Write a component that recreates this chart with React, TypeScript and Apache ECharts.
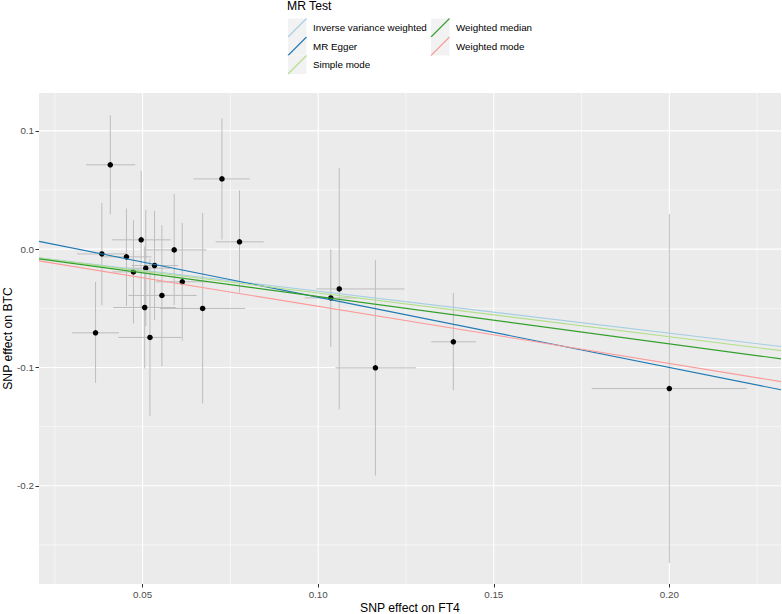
import React, { useEffect, useRef } from "react";
import * as echarts from "echarts";

// SNP effects
const ft4Beta = [0.0408, 0.0726, 0.0776, 0.0496, 0.0384, 0.0454, 0.0590, 0.0534, 0.0509, 0.0474, 0.0613, 0.0555, 0.0506, 0.0671, 0.0366, 0.0521, 0.1036, 0.1060, 0.1163, 0.1385, 0.2000];
const btcBeta = [0.0713, 0.0594, 0.0062, 0.0079, -0.0040, -0.0065, -0.0006, -0.0138, -0.0161, -0.0192, -0.0276, -0.0391, -0.0493, -0.0501, -0.0707, -0.0746, -0.0412, -0.0336, -0.1003, -0.0783, -0.1178];
const ft4Low = [0.0339, 0.0645, 0.0708, 0.0412, 0.0314, 0.0383, 0.0502, 0.0469, 0.0439, 0.0414, 0.0538, 0.0459, 0.0416, 0.0549, 0.0299, 0.0431, 0.0962, 0.0995, 0.1049, 0.1322, 0.1779];
const ft4High = [0.0479, 0.0805, 0.0845, 0.0580, 0.0454, 0.0525, 0.0682, 0.0601, 0.0579, 0.0534, 0.0688, 0.0654, 0.0595, 0.0792, 0.0433, 0.0611, 0.1110, 0.1246, 0.1278, 0.1450, 0.2220];
const btcLow = [0.0294, 0.0082, -0.0366, -0.0504, -0.0473, -0.0480, -0.0473, -0.0600, -0.0650, -0.0628, -0.0774, -0.0989, -0.1009, -0.1304, -0.1130, -0.1409, -0.0826, -0.1355, -0.1913, -0.1192, -0.2652];
const btcHigh = [0.1132, 0.1105, 0.0496, 0.0662, 0.0391, 0.0344, 0.0465, 0.0324, 0.0330, 0.0245, 0.0222, 0.0203, 0.0023, 0.0307, -0.0276, -0.0083, 0.0000, 0.0687, -0.0093, -0.0369, 0.0296];

// MR methods
const methodNames = ["Inverse variance weighted", "MR Egger", "Simple mode", "Weighted median", "Weighted mode"];
const methodSlopes = [-0.355, -0.594, -0.370, -0.400, -0.483];
const methodIntercepts = [0, 0.0188, 0, 0, 0];
const methodColors = ["#a6cee3", "#1f78b4", "#b2df8a", "#33a02c", "#fb9a99"];

// Axes
const xTicks = [0.05, 0.1, 0.15, 0.2];
const yTicks = [-0.2, -0.1, 0, 0.1];
const xMinorGrid = [0.025, 0.075, 0.125, 0.175, 0.225];
const yMinorGrid = [-0.25, -0.15, -0.05, 0.05];
const X_MIN = 0.0205;
const X_MAX = 0.2318;
const Y_MIN = -0.283;
const Y_MAX = 0.132;

const FONT = "Liberation Sans, Arial, Helvetica, sans-serif";

export default function App() {
  const ref = useRef<HTMLDivElement>(null);

  useEffect(() => {
    if (!ref.current) return;
    const chart = echarts.init(ref.current, undefined, { renderer: "svg" });

    const gridLine = (pts: number[][], major: boolean) => ({
      type: "line",
      data: pts,
      symbol: "none",
      silent: true,
      z: 0,
      lineStyle: { color: "#ffffff", width: major ? 1.1 : 0.55 },
      itemStyle: { color: "#ffffff" },
      emphasis: { disabled: true },
      tooltip: { show: false },
    });
    const gridSeries: any[] = [];
    xMinorGrid.forEach((v) => gridSeries.push(gridLine([[v, Y_MIN], [v, Y_MAX]], false)));
    yMinorGrid.forEach((v) => gridSeries.push(gridLine([[X_MIN, v], [X_MAX, v]], false)));
    xTicks.forEach((v) => gridSeries.push(gridLine([[v, Y_MIN], [v, Y_MAX]], true)));
    yTicks.forEach((v) => gridSeries.push(gridLine([[X_MIN, v], [X_MAX, v]], true)));

    const errData = ft4Beta.map((x, i) => [x, btcBeta[i], ft4Low[i], ft4High[i], btcLow[i], btcHigh[i]]);

    const lineSeries = methodNames.map((name, i) => ({
      name,
      type: "line",
      data: [
        [X_MIN, methodIntercepts[i] + methodSlopes[i] * X_MIN],
        [X_MAX, methodIntercepts[i] + methodSlopes[i] * X_MAX],
      ],
      symbol: "none",
      clip: true,
      silent: true,
      z: 4,
      lineStyle: { color: methodColors[i], width: 1.1 },
      itemStyle: { color: methodColors[i] },
    }));

    // legend graphic
    const legendEls: any[] = [];
    legendEls.push({
      type: "text",
      left: 287,
      top: 0,
      style: { text: "MR Test", font: `12.2px ${FONT}`, fill: "#000" },
    });
    const keySize = 18.5;
    const colX = [288, 431];
    const rowY = [18.5, 37, 55.5];
    methodNames.forEach((name, i) => {
      const col = i < 3 ? 0 : 1;
      const row = i < 3 ? i : i - 3;
      const kx = colX[col];
      const ky = rowY[row];
      legendEls.push({
        type: "rect",
        shape: { x: kx, y: ky, width: keySize, height: keySize },
        style: { fill: "#f2f2f2" },
        silent: true,
      });
      legendEls.push({
        type: "line",
        shape: { x1: kx, y1: ky + keySize, x2: kx + keySize, y2: ky },
        style: { stroke: methodColors[i], lineWidth: 1.1 },
        silent: true,
      });
      legendEls.push({
        type: "text",
        x: kx + keySize + 6.5,
        y: ky + keySize / 2,
        style: {
          text: name,
          font: `9.8px ${FONT}`,
          fill: "#000",
          verticalAlign: "middle",
          align: "left",
        },
        silent: true,
      });
    });

    chart.setOption({
      animation: false,
      backgroundColor: "#ffffff",
      textStyle: { fontFamily: FONT },
      grid: {
        left: 39,
        right: 1,
        top: 93,
        bottom: 30,
        show: true,
        backgroundColor: "#ebebeb",
        borderWidth: 0,
        containLabel: false,
        outerBoundsMode: "none",
      },
      xAxis: {
        type: "value",
        min: X_MIN,
        max: X_MAX,
        name: "SNP effect on FT4",
        nameLocation: "middle",
        nameGap: 18,
        nameMoveOverlap: false,
        nameTextStyle: { fontSize: 12.2, color: "#000", fontFamily: FONT },
        axisLine: { show: false, onZero: false },
        splitLine: { show: false },
        axisTick: {
          show: true,
          length: 3.5,
          customValues: xTicks,
          lineStyle: { color: "#333333", width: 1 },
        },
        axisLabel: {
          customValues: xTicks,
          formatter: (v: number) => v.toFixed(2),
          fontSize: 9.8,
          color: "#4d4d4d",
          margin: 5,
          fontFamily: FONT,
        },
      },
      yAxis: {
        type: "value",
        min: Y_MIN,
        max: Y_MAX,
        name: "SNP effect on BTC",
        nameLocation: "middle",
        nameGap: 25,
        nameMoveOverlap: false,
        nameRotate: 90,
        nameTextStyle: { fontSize: 12.2, color: "#000", fontFamily: FONT },
        axisLine: { show: false, onZero: false },
        splitLine: { show: false },
        axisTick: {
          show: true,
          length: 3.5,
          customValues: yTicks,
          lineStyle: { color: "#333333", width: 1 },
        },
        axisLabel: {
          customValues: yTicks,
          formatter: (v: number) => v.toFixed(1),
          fontSize: 9.8,
          color: "#4d4d4d",
          margin: 5,
          fontFamily: FONT,
        },
      },
      graphic: legendEls,
      series: [
        ...gridSeries,
        {
          type: "custom",
          name: "errorbars",
          silent: true,
          z: 1,
          data: errData,
          encode: { x: [0, 2, 3], y: [1, 4, 5] },
          renderItem: (params: any, api: any) => {
            const x = api.value(0);
            const y = api.value(1);
            const xl = api.coord([api.value(2), y]);
            const xh = api.coord([api.value(3), y]);
            const yl = api.coord([x, api.value(4)]);
            const yh = api.coord([x, api.value(5)]);
            return {
              type: "group",
              children: [
                {
                  type: "line",
                  shape: { x1: yl[0], y1: yl[1], x2: yh[0], y2: yh[1] },
                  style: { stroke: "#bdbdbd", lineWidth: 1 },
                },
                {
                  type: "line",
                  shape: { x1: xl[0], y1: xl[1], x2: xh[0], y2: xh[1] },
                  style: { stroke: "#bdbdbd", lineWidth: 1 },
                },
              ],
            };
          },
        },
        {
          type: "scatter",
          name: "SNPs",
          z: 3,
          silent: true,
          symbolSize: 5.5,
          itemStyle: { color: "#000000", opacity: 1 },
          data: ft4Beta.map((x, i) => [x, btcBeta[i]]),
        },
        ...lineSeries,
      ],
    });

    return () => chart.dispose();
  }, []);

  return (
    <div
      ref={ref}
      style={{ position: "fixed", left: 0, top: 0, width: 782, height: 614, background: "#fff" }}
    />
  );
}
